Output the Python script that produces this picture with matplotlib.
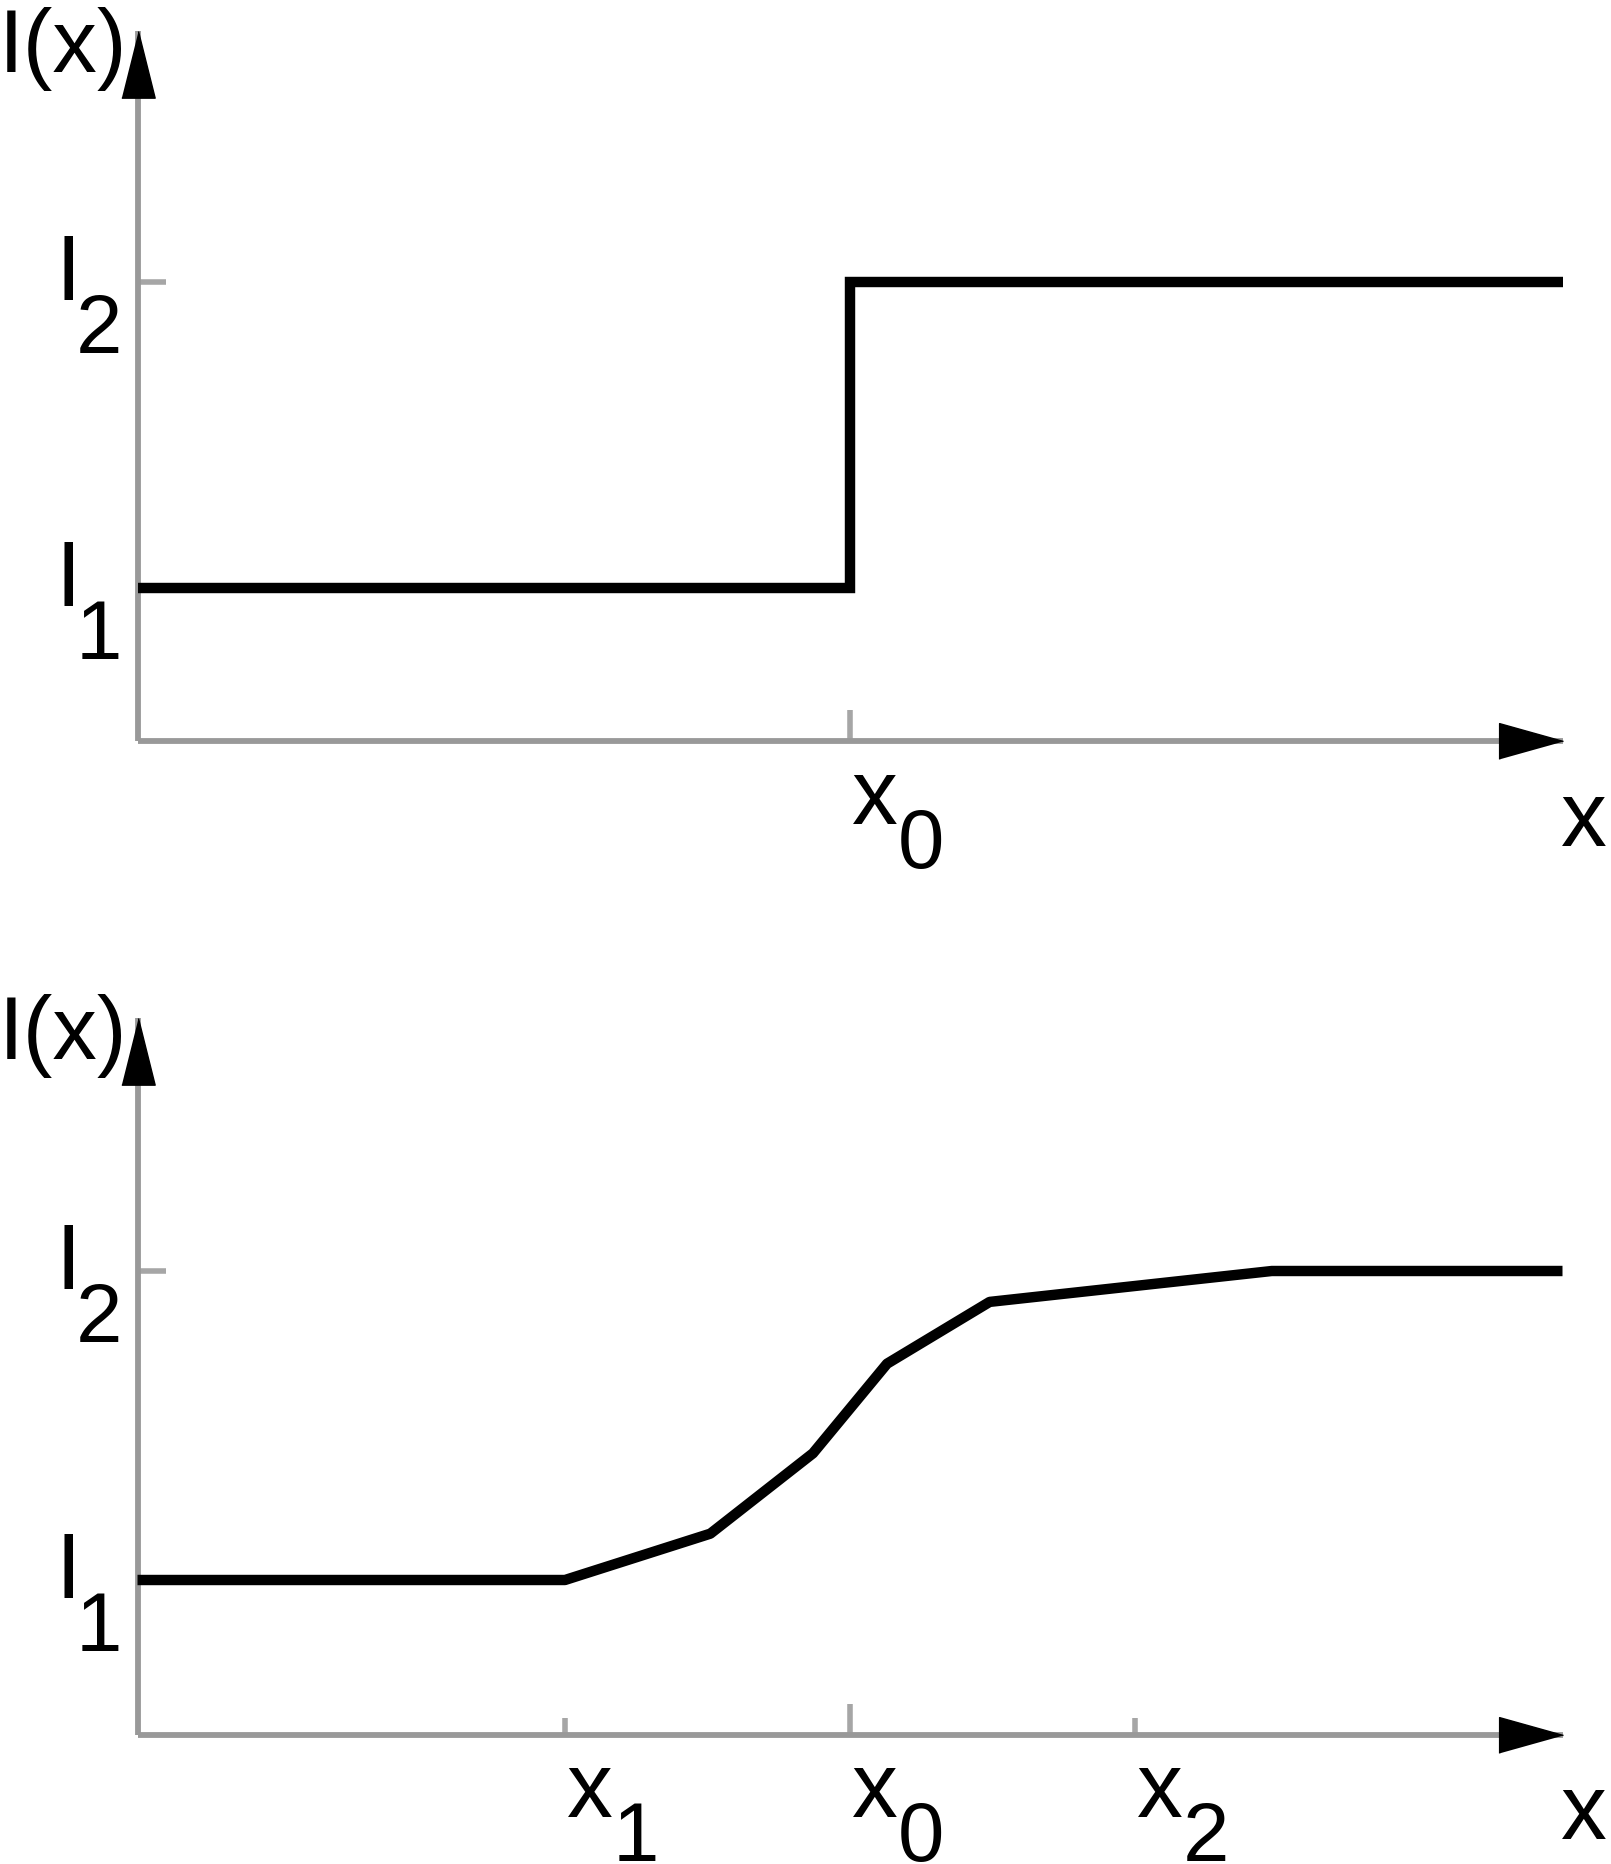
import numpy as np
import matplotlib.pyplot as plt

plt.rcParams['font.family'] = ['Liberation Sans', 'DejaVu Sans']

# intensity levels and edge positions
I1, I2 = 1.0, 2.0
top_ticks = [0.0]
top_tick_subs = ['0']
bottom_ticks = [-1.0, 0.0, 1.0]
bottom_tick_subs = ['1', '0', '2']

# ideal step edge
step_x = [-2.5, 0.0, 2.5]
step_y = [I1, I2, I2]

# blurred edge
smooth_x = [-2.5, -1.0, -0.49, -0.13, 0.13, 0.49, 1.48, 2.5]
smooth_y = [1.0, 1.0, 1.15, 1.41, 1.70, 1.90, 2.0, 2.0]

W, H = 1611, 1865
fig = plt.figure(figsize=(W / 100, H / 100), dpi=100)

axis_grey = '#999999'
tick_grey = '#a6a6a6'
XL, YL = (-2.6, 2.6), (0.3, 2.9)
X_END, Y_BASE, Y_END = 2.5, 0.5, 2.82


def make_axes(i1_px, i2_px):
    # rows of I1 / I2 in pixels -> axes rectangle
    ppu = i1_px - i2_px
    top = i1_px - ppu * (YL[1] - 1)
    bot = i1_px - ppu * (YL[0] - 1)
    left = 850 + XL[0] * 285
    right = 850 + XL[1] * 285
    ax = fig.add_axes([left / W, 1 - bot / H, (right - left) / W, (bot - top) / H])
    ax.set_xlim(XL)
    ax.set_ylim(YL)
    return ax


def draw_frame(ax, ticks, subs):
    ax.patch.set_visible(False)
    for s in ['top', 'right']:
        ax.spines[s].set_visible(False)
    ax.spines['left'].set_position(('data', -2.5))
    ax.spines['bottom'].set_position(('data', Y_BASE))
    ax.spines['left'].set_bounds(Y_BASE, Y_END)
    ax.spines['bottom'].set_bounds(-2.5, X_END)
    for s in ['left', 'bottom']:
        ax.spines[s].set_color(axis_grey)
        ax.spines[s].set_linewidth(4.2)
        ax.spines[s].set_capstyle('butt')

    ax.set_yticks([I1, I2])
    ax.set_yticklabels([])
    ax.tick_params(axis='y', direction='in', length=20, width=4, color=tick_grey)
    ax.set_xticks([t for t in ticks if t == 0.0])
    ax.set_xticks([t for t in ticks if t != 0.0], minor=True)
    ax.set_xticklabels([])
    ax.tick_params(axis='x', which='major', direction='in', length=22, width=4, color=tick_grey)
    ax.tick_params(axis='x', which='minor', direction='in', length=12, width=4, color=tick_grey)

    # arrow heads
    head_x = [(0, 0), (-1, 0.28), (-1, -0.28)]
    head_y = [(0, 0), (0.25, -1), (-0.25, -1)]
    ax.plot([X_END], [Y_BASE], marker=head_x, markersize=92, color='k', lw=0, clip_on=False, zorder=5)
    ax.plot([-2.5], [Y_END], marker=head_y, markersize=96, color='k', lw=0, clip_on=False, zorder=5)

    kw = dict(textcoords='offset pixels', va='baseline', annotation_clip=False)
    ax.annotate('I(x)', xy=(-2.5, Y_END), xytext=(-10, -40), ha='right', fontsize=64, **kw)
    for v, d in zip([I1, I2], ['1', '2']):
        ax.annotate('I', xy=(-2.5, v), xytext=(-56, -17), ha='right', fontsize=66, **kw)
        ax.annotate(d, xy=(-2.5, v), xytext=(-15, -70), ha='right', fontsize=60, **kw)
    for t, d in zip(ticks, subs):
        ax.annotate('x', xy=(t, Y_BASE), xytext=(2, -82), ha='left', fontsize=66, **kw)
        ax.annotate(d, xy=(t, Y_BASE), xytext=(48, -126), ha='left', fontsize=60, **kw)
    ax.annotate('x', xy=(X_END, Y_BASE), xytext=(-2, -104), ha='left', fontsize=66, **kw)


ax1 = make_axes(589, 283)
draw_frame(ax1, top_ticks, top_tick_subs)
ax1.plot(step_x, step_y, drawstyle='steps-post', color='k', lw=7.5,
         solid_joinstyle='miter', solid_capstyle='butt', zorder=4)

ax2 = make_axes(1581, 1272)
draw_frame(ax2, bottom_ticks, bottom_tick_subs)
ax2.plot(smooth_x, smooth_y, color='k', lw=7.5,
         solid_joinstyle='round', solid_capstyle='butt', zorder=4)

fig.savefig('out.png', dpi=100, facecolor='white')
